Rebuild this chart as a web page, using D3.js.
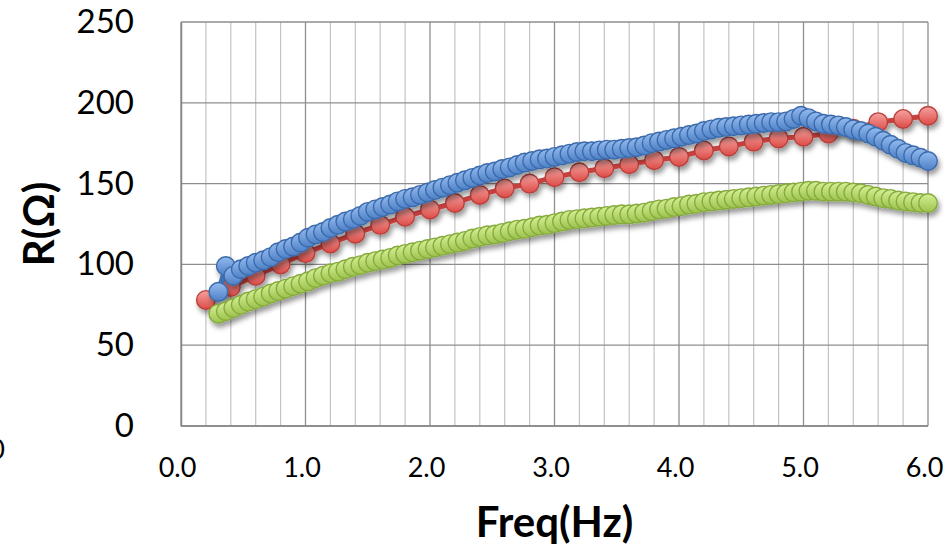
<!DOCTYPE html>
<html>
<head>
<meta charset="utf-8">
<script src="https://cdn.jsdelivr.net/npm/d3@7"></script>
<style>
  html, body { margin: 0; padding: 0; background: #fff; }
  svg { display: block; }
</style>
</head>
<body>
<svg id="chart" width="951" height="547"></svg>
<script>
// ---------- data ----------
const xTickValues = [0, 1, 2, 3, 4, 5, 6];
const yTickValues = [0, 50, 100, 150, 200, 250];
const xTitle = "Freq(Hz)";
const yTitle = "R(Ω)";

// [freq, R] pairs
const redSeries = [
  [0.2,78],[0.4,86],[0.6,93],[0.8,100],[1.0,107],[1.2,113],[1.4,119],[1.6,124.5],
  [1.8,129.5],[2.0,134],[2.2,138],[2.4,143],[2.6,147],[2.8,150],[3.0,154],[3.2,157],
  [3.4,159.5],[3.6,162],[3.8,164.5],[4.0,166.5],[4.2,170.5],[4.4,173],[4.6,176],
  [4.8,178],[5.0,179],[5.2,181],[5.4,184],[5.6,188],[5.8,190],[6.0,192]
];

const blueSeries = [
  [0.30,83],[0.36,99],[0.42,93],[0.48,97],[0.54,99],[0.60,101],[0.66,102.5],[0.72,104.5],
  [0.78,107.5],[0.84,109.5],[0.90,111],[0.96,113.5],[1.02,116.5],[1.08,118.5],[1.14,120],
  [1.20,122.5],[1.26,124.5],[1.32,126.5],[1.38,128],[1.44,130],[1.50,132.5],[1.56,134],
  [1.62,135.5],[1.68,137],[1.74,139],[1.80,140.5],[1.86,141.5],[1.92,143],[1.98,144.5],
  [2.04,146],[2.10,147.5],[2.16,149],[2.22,150.5],[2.28,152],[2.34,153.5],[2.40,155],
  [2.46,156.5],[2.52,157.5],[2.58,159],[2.64,160],[2.70,161.5],[2.76,163],[2.82,164],
  [2.88,165],[2.94,165.5],[3.00,166.5],[3.06,167.5],[3.12,168.5],[3.18,169.5],[3.24,170],
  [3.30,170],[3.36,170.5],[3.42,171],[3.48,171],[3.54,171.5],[3.60,172],[3.66,172.5],
  [3.72,173.5],[3.78,175],[3.84,176],[3.90,177],[3.96,178],[4.02,179],[4.08,180],
  [4.14,181],[4.20,182.5],[4.26,183.5],[4.32,184.5],[4.38,185],[4.44,185.5],[4.50,186],
  [4.56,186.5],[4.62,187],[4.68,187.5],[4.74,188],[4.80,188],[4.86,188.5],[4.92,190],
  [4.98,192],[5.04,190.5],[5.10,188.5],[5.16,187],[5.22,186.5],[5.28,186],[5.34,185],
  [5.40,183.5],[5.46,182.5],[5.52,181],[5.58,179],[5.64,176.5],[5.70,174],[5.76,171.5],
  [5.82,169],[5.88,167.5],[5.94,166],[6.00,164]
];

const greenSeries = [
  [0.30,69.5],[0.36,71],[0.42,73],[0.48,75],[0.54,77],[0.60,78.5],[0.66,80],[0.72,82],
  [0.78,83.5],[0.84,85],[0.90,86.5],[0.96,88],[1.02,89.5],[1.08,91.5],[1.14,93],[1.20,94.5],
  [1.26,95.5],[1.32,97],[1.38,98.5],[1.44,99.5],[1.50,101],[1.56,102],[1.62,103],[1.68,104],
  [1.74,105.5],[1.80,106.5],[1.86,107.5],[1.92,108.5],[1.98,109.5],[2.04,110.5],[2.10,111.5],
  [2.16,112.5],[2.22,113.5],[2.28,114.5],[2.34,116],[2.40,117],[2.46,118],[2.52,118.5],
  [2.58,119.5],[2.64,120.5],[2.70,121.5],[2.76,122],[2.82,123],[2.88,124],[2.94,124.5],
  [3.00,125.5],[3.06,126.5],[3.12,127.5],[3.18,128],[3.24,128.5],[3.30,129],[3.36,129.5],
  [3.42,130],[3.48,130.5],[3.54,131],[3.60,131],[3.66,131.5],[3.72,132],[3.78,133],
  [3.84,134],[3.90,134.5],[3.96,135.5],[4.02,136],[4.08,137],[4.14,137.5],[4.20,138.5],
  [4.26,139],[4.32,139.5],[4.38,140],[4.44,140.5],[4.50,141],[4.56,141.5],[4.62,142],
  [4.68,142.5],[4.74,143],[4.80,143.5],[4.86,144],[4.92,144.5],[4.98,145],[5.04,145.5],
  [5.10,145.5],[5.16,145],[5.22,145],[5.28,145],[5.34,145],[5.40,144.5],[5.46,144],
  [5.52,143],[5.58,142],[5.64,141],[5.70,140.5],[5.76,139.5],[5.82,139],[5.88,138.5],
  [5.94,138],[6.00,138]
];

// ---------- layout ----------
const W = 951, H = 547;
const plot = { left: 181, right: 928, top: 22, bottom: 426 };
const svg = d3.select("#chart");
const FONT = "Lato, 'Open Sans', 'DejaVu Sans', sans-serif";

const x = d3.scaleLinear().domain([0, 6]).range([plot.left, plot.right]);
const y = d3.scaleLinear().domain([0, 250]).range([plot.bottom, plot.top]);

const defs = svg.append("defs");
const shadow = defs.append("filter").attr("id", "shadow")
  .attr("x", "-10%").attr("y", "-20%").attr("width", "130%").attr("height", "160%");
shadow.append("feDropShadow").attr("dx", 2).attr("dy", 4).attr("stdDeviation", 2.5)
  .attr("flood-color", "#000").attr("flood-opacity", 0.4);

const styles = [
  { id: "red",   data: redSeries,   light: "#f6a3a0", base: "#dc4b46", stroke: "#b8403c", line: "#c8413d" },
  { id: "blue",  data: blueSeries,  light: "#94bbef", base: "#4d80c6", stroke: "#3b6aab", line: "#3f70b4" },
  { id: "green", data: greenSeries, light: "#d6f095", base: "#9cc24d", stroke: "#86aa3d", line: "#8db442" }
];
styles.forEach(s => {
  const g = defs.append("linearGradient").attr("id", "grad-" + s.id)
    .attr("x1", 0).attr("y1", 0).attr("x2", 0).attr("y2", 1);
  g.append("stop").attr("offset", "0%").attr("stop-color", s.light);
  g.append("stop").attr("offset", "100%").attr("stop-color", s.base);
});

// ---------- grid ----------
const grid = svg.append("g");
const minor = x.ticks(30).filter(v => Math.abs(v - Math.round(v)) > 1e-6);
grid.selectAll("line.minor").data(minor).join("line")
  .attr("x1", d => x(d)).attr("x2", d => x(d))
  .attr("y1", plot.top).attr("y2", plot.bottom)
  .attr("stroke", "#c3c3c3").attr("stroke-width", 1.2);
grid.selectAll("line.majx").data(xTickValues).join("line")
  .attr("x1", d => x(d)).attr("x2", d => x(d))
  .attr("y1", plot.top).attr("y2", plot.bottom)
  .attr("stroke", "#8e8e8e").attr("stroke-width", 1.3);
grid.selectAll("line.majy").data(yTickValues).join("line")
  .attr("x1", plot.left).attr("x2", plot.right)
  .attr("y1", d => y(d)).attr("y2", d => y(d))
  .attr("stroke", "#8e8e8e").attr("stroke-width", 1.3);

// ---------- axes (labels) ----------
const yAxis = svg.append("g").attr("transform", `translate(${plot.left},0)`)
  .call(d3.axisLeft(y).tickValues(yTickValues).tickSize(0).tickPadding(47).tickFormat(d3.format("d")));
yAxis.select(".domain").attr("stroke", "#868686").attr("stroke-width", 1.5);
yAxis.selectAll("text").attr("font-family", FONT).attr("font-size", 33).attr("fill", "#000");

const xAxis = svg.append("g").attr("transform", `translate(-4,${plot.bottom})`)
  .call(d3.axisBottom(x).tickValues(xTickValues).tickSize(0).tickPadding(0).tickFormat(d3.format(".1f")));
xAxis.select(".domain").remove();
xAxis.selectAll("text").attr("font-family", FONT).attr("font-size", 27).attr("fill", "#000")
  .attr("dy", null).attr("y", 51);
svg.append("line").attr("x1", plot.left).attr("x2", plot.right)
  .attr("y1", plot.bottom).attr("y2", plot.bottom)
  .attr("stroke", "#868686").attr("stroke-width", 1.5);

// ---------- series ----------
const lineGen = d3.line().x(d => x(d[0])).y(d => y(d[1]));
styles.forEach(s => {
  const g = svg.append("g").attr("filter", "url(#shadow)");
  g.append("path").datum(s.data).attr("d", lineGen)
    .attr("fill", "none").attr("stroke", s.line).attr("stroke-width", 5)
    .attr("stroke-linejoin", "round");
  g.selectAll("circle").data(s.data).join("circle")
    .attr("cx", d => x(d[0])).attr("cy", d => y(d[1])).attr("r", 9.3)
    .attr("fill", `url(#grad-${s.id})`).attr("stroke", s.stroke).attr("stroke-width", 1.4);
});

// ---------- titles ----------
svg.append("text").attr("x", (plot.left + plot.right) / 2).attr("y", 537)
  .attr("text-anchor", "middle").attr("font-family", FONT).attr("font-weight", "bold")
  .attr("font-size", 42).attr("fill", "#000").text(xTitle);
svg.append("text").attr("transform", `translate(54,${(plot.top + plot.bottom) / 2}) rotate(-90)`)
  .attr("text-anchor", "middle").attr("font-family", FONT).attr("font-weight", "bold")
  .attr("font-size", 42).attr("fill", "#000").text(yTitle);

// fragment of neighbouring chart at the left edge
svg.append("text").attr("x", 5).attr("y", 459).attr("text-anchor", "end")
  .attr("font-family", FONT).attr("font-size", 27).attr("fill", "#000").text("0");
</script>
</body>
</html>
